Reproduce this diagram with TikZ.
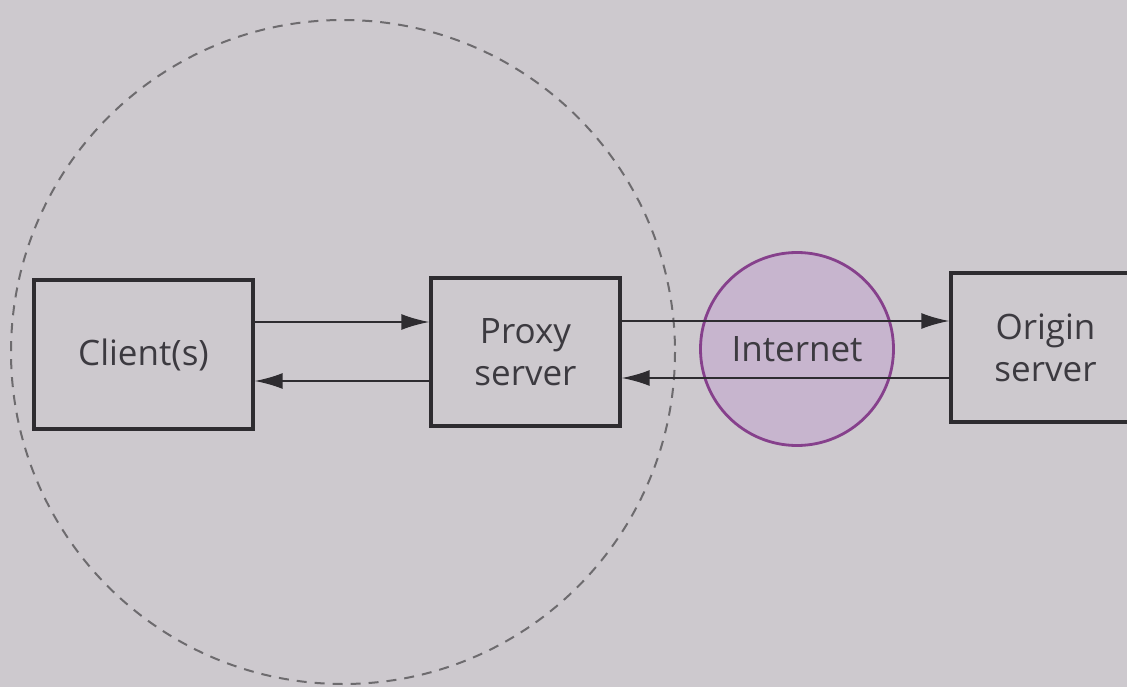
\documentclass[tikz,border=0pt]{standalone}
\usepackage{fontspec}
\setmainfont{Open Sans}
\usetikzlibrary{arrows.meta}
\definecolor{paper}{HTML}{CDC9CE}
\definecolor{ink}{HTML}{2E2C30}
\definecolor{label}{HTML}{3C3A40}
\definecolor{netfill}{HTML}{C7B5CE}
\definecolor{netline}{HTML}{86408C}
\tikzset{
  x=1pt, y=-1pt,
  labelfont/.style={text=label, font=\fontsize{35}{42}\selectfont},
  box/.style={draw=ink, line width=3.4pt, inner sep=0pt, align=center, labelfont},
  link/.style={draw=ink, line width=1.9pt,
    -{Latex[length=28pt, width=16pt]}},
  zone/.style={draw=ink!70, line width=2pt, dash pattern=on 10pt off 8pt},
}
\begin{document}
\begin{tikzpicture}
\fill[paper] (0,0) rectangle (1127,687);
\useasboundingbox (0,0) rectangle (1127,687);
\clip (0,0) rectangle (1127,687);

% local network boundary
\draw[zone] (343,352) circle[radius=332];

% the Internet cloud
\node[circle, draw=netline, fill=netfill, line width=2.8pt, minimum size=193pt,
      inner sep=0pt, labelfont] (net) at (797,349) {Internet};

% hosts
\node[box, minimum width=219pt, minimum height=149pt] (client) at (143.5,354.5) {Client(s)};
\node[box, minimum width=189pt, minimum height=148pt] (proxy) at (525.5,352) {Proxy\\server};
\node[box, minimum width=189pt, minimum height=149pt] (origin) at (1045.5,347.5) {Origin\\server};

% requests and responses
\draw[link] (client.east |- 0,322) -- (proxy.west |- 0,322);
\draw[link] (proxy.west |- 0,381) -- (client.east |- 0,381);
\draw[link] (proxy.east |- 0,321) -- (origin.west |- 0,321);
\draw[link] (origin.west |- 0,378) -- (proxy.east |- 0,378);
\end{tikzpicture}
\end{document}
